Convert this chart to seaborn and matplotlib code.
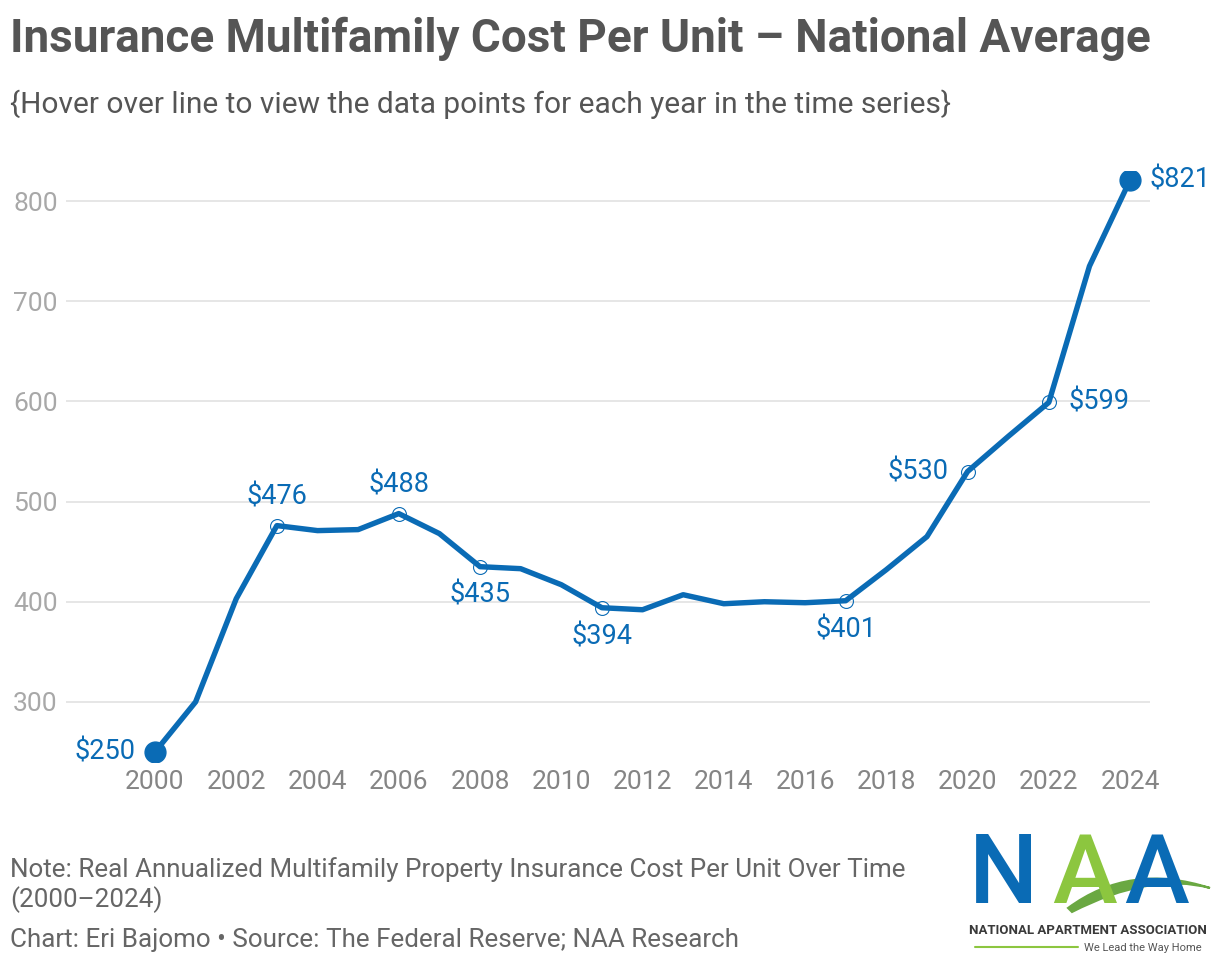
import matplotlib
matplotlib.use("Agg")
import matplotlib.pyplot as plt
import seaborn as sns
import pandas as pd
from matplotlib.path import Path
from matplotlib.patches import PathPatch

years = list(range(2000, 2025))
cost = [250, 300, 403, 476, 471, 472, 488, 468, 435, 433, 417, 394, 392,
        407, 398, 400, 399, 401, 432, 465, 530, 565, 599, 735, 821]

# labelled points and where their label sits
label_years = [2000, 2003, 2006, 2008, 2011, 2017, 2020, 2022, 2024]
label_side = ["left", "above", "above", "below", "below", "below", "left", "right", "right"]
end_years = [2000, 2024]

y_ticks = [300, 400, 500, 600, 700, 800]
x_ticks = list(range(2000, 2025, 2))

BLUE = "#0a6bb5"
GREEN = "#8cc63f"
W, H = 1220, 964

df = pd.DataFrame({"year": years, "cost": cost})

sns.set_theme(style="white")
plt.rcParams["font.family"] = ["Roboto", "DejaVu Sans"]

fig = plt.figure(figsize=(12.2, 9.64), dpi=100)
ax = fig.add_axes([66 / W, 1 - 762 / H, (1150 - 66) / W, (762 - 171) / H])

sns.lineplot(data=df, x="year", y="cost", color=BLUE, linewidth=3.9, ax=ax)

lab = df[df["year"].isin(label_years)]
mid = lab[~lab["year"].isin(end_years)]
ends = lab[lab["year"].isin(end_years)]
ax.plot(mid["year"], mid["cost"], "o", ms=10, mfc="none", mec=BLUE, mew=0.8, zorder=4)
ax.plot(ends["year"], ends["cost"], "o", ms=15, color=BLUE, zorder=5)

offsets = {"left": (-14, 0, "right", "center"),
           "right": (14, 0, "left", "center"),
           "above": (0, 11, "center", "bottom"),
           "below": (0, -11, "center", "top")}
for yr, side in zip(label_years, label_side):
    val = cost[years.index(yr)]
    dx, dy, ha, va = offsets[side]
    ax.annotate(f"${val}", (yr, val), xytext=(dx, dy), textcoords="offset points",
                ha=ha, va=va, fontsize=19.5, color=BLUE)

ax.set_xlim(1997.81, 2024.49)
ax.set_ylim(240, 830)
ax.set_yticks(y_ticks)
ax.set_xticks(x_ticks)
ax.set_xticklabels([str(x) for x in x_ticks], color="#858585", fontsize=19)
ax.set_yticklabels([str(y) for y in y_ticks], color="#a8a8a8", fontsize=19)
ax.tick_params(axis="both", length=0, pad=6)
ax.set_xlabel("")
ax.set_ylabel("")
ax.grid(axis="y", color="#e2e2e2", linewidth=1.2)
ax.grid(axis="x", visible=False)
ax.set_axisbelow(True)
for s in ax.spines.values():
    s.set_visible(False)

fig.text(10 / W, 1 - 52 / H, "Insurance Multifamily Cost Per Unit – National Average",
         fontsize=33, fontweight="bold", color="#555555", ha="left", va="baseline")
fig.text(10 / W, 1 - 113 / H,
         "{Hover over line to view the data points for each year in the time series}",
         fontsize=21.5, color="#555555", ha="left", va="baseline")

fig.text(10 / W, 1 - 877 / H,
         "Note: Real Annualized Multifamily Property Insurance Cost Per Unit Over Time",
         fontsize=18.7, color="#666666", ha="left", va="baseline")
fig.text(10 / W, 1 - 907 / H, "(2000–2024)",
         fontsize=18.7, color="#666666", ha="left", va="baseline")
fig.text(10 / W, 1 - 947 / H,
         "Chart: Eri Bajomo • Source: The Federal Reserve; NAA Research",
         fontsize=18.7, color="#666666", ha="left", va="baseline")

# NAA logo
for ch, xp, col in [("N", 969, BLUE), ("A", 1052, GREEN), ("A", 1124, BLUE)]:
    fig.text(xp / W, 1 - 903 / H, ch, fontsize=70, fontweight="medium", color=col,
             ha="left", va="baseline")


def fp(x, y):
    return (x / W, 1 - y / H)


swoosh = Path([fp(1068, 908), fp(1130, 862), fp(1210, 888),
               fp(1150, 872), fp(1072, 912), fp(1068, 908)],
              [Path.MOVETO, Path.CURVE3, Path.CURVE3,
               Path.CURVE3, Path.CURVE3, Path.CLOSEPOLY])
fig.add_artist(PathPatch(swoosh, transform=fig.transFigure, facecolor="#6aa842",
                         edgecolor="#6aa842", linewidth=1.5))
fig.text(1088 / W, 1 - 931 / H, "NATIONAL APARTMENT ASSOCIATION", fontsize=9.5,
         fontweight="bold", color="#3a3a3a", ha="center", va="center")
fig.add_artist(plt.Line2D([975 / W, 1078 / W], [1 - 947 / H, 1 - 947 / H],
                          transform=fig.transFigure, color=GREEN, linewidth=1.5))
fig.text(1202 / W, 1 - 948 / H, "We Lead the Way Home", fontsize=8,
         color="#555555", ha="right", va="center")

fig.savefig("out.png", dpi=100)
